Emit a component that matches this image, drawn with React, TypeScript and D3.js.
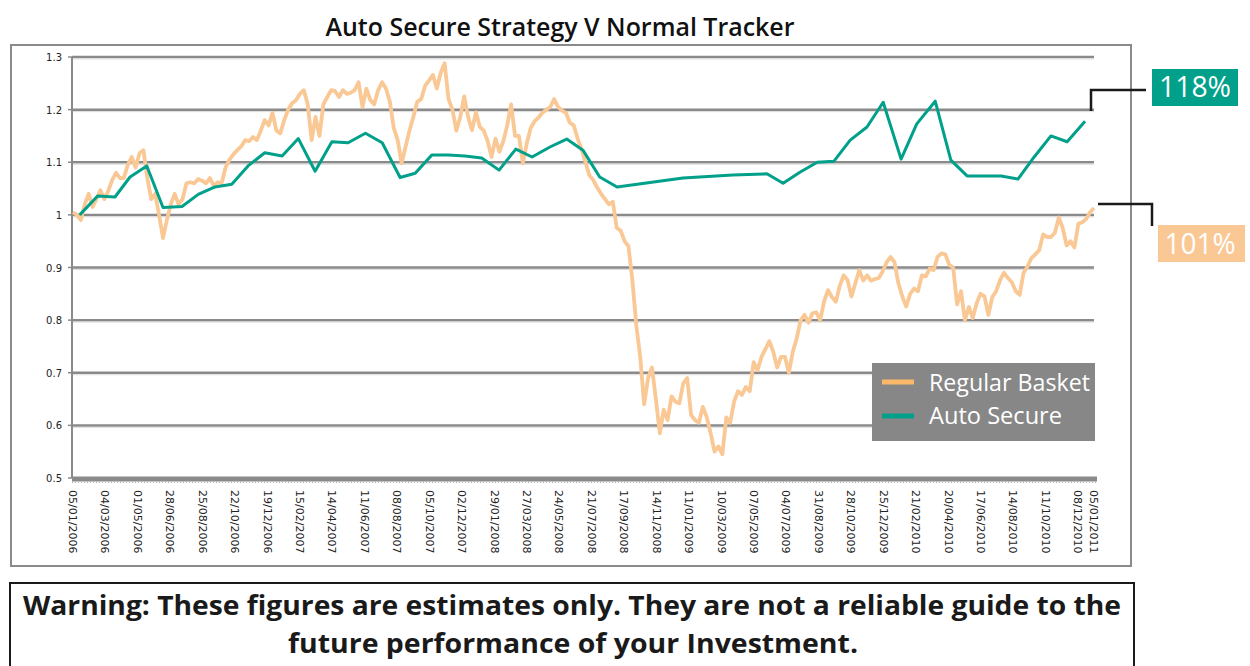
import React from "react";
import * as d3 from "d3";

// tick labels on the date axis
const tickLabels = [
  "05/01/2006", "04/03/2006", "01/05/2006", "28/06/2006", "25/08/2006", "22/10/2006",
  "19/12/2006", "15/02/2007", "14/04/2007", "11/06/2007", "08/08/2007", "05/10/2007",
  "02/12/2007", "29/01/2008", "27/03/2008", "24/05/2008", "21/07/2008", "17/09/2008",
  "14/11/2008", "11/01/2009", "10/03/2009", "07/05/2009", "04/07/2009", "31/08/2009",
  "28/10/2009", "25/12/2009", "21/02/2010", "20/04/2010", "17/06/2010", "14/08/2010",
  "11/10/2010", "08/12/2010", "05/01/2011",
];
const yTicks = [0.5, 0.6, 0.7, 0.8, 0.9, 1, 1.1, 1.2, 1.3];

// Auto Secure (monthly points)
const autoDates = [
  "2006-01-17", "2006-02-18", "2006-03-21", "2006-04-17", "2006-05-17", "2006-06-15",
  "2006-07-19", "2006-08-17", "2006-09-16", "2006-10-16", "2006-11-14", "2006-12-14",
  "2007-01-14", "2007-02-12", "2007-03-14", "2007-04-13", "2007-05-12", "2007-06-12",
  "2007-07-12", "2007-08-13", "2007-09-09", "2007-10-09", "2007-11-07", "2007-12-07",
  "2008-01-06", "2008-02-06", "2008-03-07", "2008-04-05", "2008-05-07", "2008-06-06",
  "2008-07-05", "2008-08-04", "2008-09-04", "2008-12-31", "2009-03-30", "2009-05-30",
  "2009-06-28", "2009-07-28", "2009-08-28", "2009-09-27", "2009-10-26", "2009-11-25",
  "2009-12-24", "2010-01-25", "2010-02-22", "2010-03-27", "2010-04-24", "2010-05-23",
  "2010-07-23", "2010-08-22", "2010-09-20", "2010-10-20", "2010-11-18", "2010-12-20",
];
const autoValues = [
  1.0, 1.036, 1.034, 1.072, 1.093, 1.014,
  1.016, 1.039, 1.053, 1.058, 1.093, 1.118,
  1.112, 1.145, 1.083, 1.139, 1.137, 1.155,
  1.137, 1.071, 1.079, 1.114, 1.114, 1.112,
  1.108, 1.085, 1.125, 1.11, 1.129, 1.144,
  1.123, 1.072, 1.053, 1.07, 1.076, 1.078,
  1.06, 1.081, 1.1, 1.102, 1.142, 1.167,
  1.214, 1.106, 1.173, 1.216, 1.104, 1.074,
  1.074, 1.068, 1.11, 1.15, 1.139, 1.178,
];

// Regular Basket (weekly, 05/01/2006 .. 05/01/2011)
const basketStart = "2006-01-05";
const basketEnd = "2011-01-05";
const basketValues = [
  1.005, 1.0, 0.99, 1.02, 1.04, 1.015, 1.03, 1.047, 1.03, 1.045,
  1.066, 1.08, 1.07, 1.07, 1.095, 1.11, 1.09, 1.117, 1.123, 1.07,
  1.03, 1.04, 1.0, 0.956, 0.99, 1.02, 1.04, 1.02, 1.03, 1.06,
  1.062, 1.06, 1.068, 1.065, 1.06, 1.07, 1.055, 1.062, 1.06, 1.09,
  1.105, 1.115, 1.123, 1.13, 1.142, 1.14, 1.148, 1.142, 1.16, 1.18,
  1.17, 1.194, 1.16, 1.155, 1.18, 1.2, 1.212, 1.218, 1.23, 1.237,
  1.21, 1.142, 1.186, 1.15, 1.21, 1.224, 1.237, 1.235, 1.224, 1.237,
  1.23, 1.232, 1.237, 1.252, 1.205, 1.24, 1.218, 1.21, 1.237, 1.252,
  1.24, 1.215, 1.165, 1.142, 1.098, 1.129, 1.16, 1.186, 1.215, 1.22,
  1.245, 1.255, 1.266, 1.24, 1.27, 1.288, 1.22, 1.2, 1.16, 1.186,
  1.225, 1.186, 1.161, 1.195, 1.167, 1.16, 1.14, 1.11, 1.145, 1.12,
  1.14, 1.17, 1.21, 1.15, 1.15, 1.098, 1.136, 1.165, 1.178, 1.185,
  1.194, 1.2, 1.205, 1.22, 1.205, 1.198, 1.194, 1.175, 1.17, 1.145,
  1.125, 1.1, 1.075, 1.066, 1.052, 1.04, 1.03, 1.02, 1.025, 0.975,
  0.97, 0.95, 0.94, 0.875, 0.79, 0.73, 0.64, 0.69, 0.71, 0.65,
  0.585, 0.63, 0.61, 0.655, 0.645, 0.642, 0.68, 0.69, 0.62, 0.61,
  0.605, 0.635, 0.616, 0.585, 0.55, 0.56, 0.545, 0.615, 0.605, 0.645,
  0.665, 0.658, 0.673, 0.665, 0.72, 0.705, 0.73, 0.745, 0.76, 0.74,
  0.71, 0.73, 0.73, 0.7, 0.74, 0.765, 0.8, 0.81, 0.795, 0.813,
  0.815, 0.8, 0.835, 0.857, 0.844, 0.835, 0.865, 0.885, 0.876, 0.845,
  0.87, 0.895, 0.875, 0.885, 0.875, 0.878, 0.88, 0.893, 0.91, 0.92,
  0.91, 0.87, 0.845, 0.826, 0.85, 0.86, 0.855, 0.885, 0.883, 0.898,
  0.895, 0.92, 0.927, 0.925, 0.905, 0.9, 0.83, 0.855, 0.8, 0.825,
  0.804, 0.832, 0.85, 0.845, 0.81, 0.844, 0.855, 0.876, 0.89, 0.88,
  0.872, 0.855, 0.848, 0.89, 0.902, 0.918, 0.925, 0.933, 0.963, 0.958,
  0.958, 0.966, 0.995, 0.975, 0.942, 0.95, 0.938, 0.983, 0.986, 0.992,
  1.005, 1.013,
];

const TEAL = "#00a08a";
const PEACH = "#f9c894";
const GRID = "#8a8a8a";

const parseTick = d3.timeParse("%d/%m/%Y");
const parseIso = d3.timeParse("%Y-%m-%d");

export default function App() {
  const left = 73;
  const right = 1094;
  const top = 57;
  const bottom = 478;

  const x = d3
    .scaleTime()
    .domain([parseIso(basketStart)!, parseIso(basketEnd)!])
    .range([left, right]);
  const xi = d3
    .scaleLinear()
    .domain([0, basketValues.length - 1])
    .range([left, right]);
  const y = d3.scaleLinear().domain([0.5, 1.3]).range([bottom, top]);

  const basketLine = d3
    .line<number>()
    .x((_, i) => xi(i))
    .y((d) => y(d))(basketValues)!;

  const autoLine = d3
    .line<number>()
    .x((_, i) => x(parseIso(autoDates[i])!))
    .y((d) => y(d))(autoValues)!;

  return (
    <svg
      width={1250}
      height={666}
      style={{ position: "absolute", left: 0, top: 0, background: "#fff" }}
    >
      {/* title */}
      <text
        x={560}
        y={36}
        textAnchor="middle"
        fontFamily="'Open Sans', sans-serif"
        fontWeight={600}
        fontSize={26}
        fill="#111"
        textLength={469}
        lengthAdjust="spacingAndGlyphs"
      >
        Auto Secure Strategy V Normal Tracker
      </text>

      {/* chart frame */}
      <rect x={11} y={45} width={1120} height={521} fill="none" stroke="#8a8a8a" strokeWidth={2} />

      {/* gridlines */}
      {yTicks.slice(1).map((t) => (
        <g key={t}>
          <line x1={left - 1} x2={right} y1={y(t)} y2={y(t)} stroke={GRID} strokeWidth={2.5} />
          <line x1={left - 1} x2={right} y1={y(t) + 2} y2={y(t) + 2} stroke="#dcdcdc" strokeWidth={1} />
        </g>
      ))}

      {/* y axis */}
      <line x1={left - 1} x2={left - 1} y1={top} y2={bottom} stroke={GRID} strokeWidth={2} />
      {yTicks.map((t) => (
        <g key={t}>
          <line x1={left - 5} x2={left - 1} y1={y(t)} y2={y(t)} stroke={GRID} strokeWidth={1.5} />
          <text
            x={left - 11}
            y={y(t) + 4}
            textAnchor="end"
            fontFamily="'DejaVu Sans', sans-serif"
            fontSize={10}
            fill="#222"
          >
            {t}
          </text>
        </g>
      ))}

      {/* x axis band */}
      <line x1={left - 1} x2={right + 3} y1={bottom + 1} y2={bottom + 1} stroke={GRID} strokeWidth={5} />
      <line
        x1={left - 1}
        x2={right + 3}
        y1={bottom + 4.5}
        y2={bottom + 4.5}
        stroke="#bdbdbd"
        strokeWidth={1}
        strokeDasharray="1 2"
      />
      {tickLabels.map((lbl) => {
        const px = x(parseTick(lbl)!);
        return (
          <text
            key={lbl}
            transform={`translate(${px - 4},${bottom + 12}) rotate(90)`}
            fontFamily="'DejaVu Sans', sans-serif"
            fontSize={11}
            fill="#222"
          >
            {lbl}
          </text>
        );
      })}

      {/* series */}
      <path d={basketLine} fill="none" stroke={PEACH} strokeWidth={3.8} strokeLinejoin="round" />
      <path d={autoLine} fill="none" stroke={TEAL} strokeWidth={3} strokeLinejoin="round" />

      {/* legend */}
      <rect x={872} y={363} width={223} height={78} fill="#878787" />
      <line x1={882} x2={914} y1={382} y2={382} stroke="#fbb868" strokeWidth={5} />
      <line x1={882} x2={914} y1={416} y2={416} stroke={TEAL} strokeWidth={5} />
      <text
        x={929}
        y={391}
        fontFamily="'Open Sans', sans-serif"
        fontSize={23}
        fill="#fff"
        textLength={161}
        lengthAdjust="spacingAndGlyphs"
      >
        Regular Basket
      </text>
      <text
        x={929}
        y={424}
        fontFamily="'Open Sans', sans-serif"
        fontSize={23}
        fill="#fff"
        textLength={133}
        lengthAdjust="spacingAndGlyphs"
      >
        Auto Secure
      </text>

      {/* end annotations */}
      <path d="M1091,111 V90 H1146" fill="none" stroke="#1a1a1a" strokeWidth={2.5} />
      <rect x={1152} y={69} width={86} height={37} fill={TEAL} />
      <text
        x={1195}
        y={97}
        textAnchor="middle"
        fontFamily="'Open Sans', sans-serif"
        fontSize={29}
        fill="#fff"
        textLength={72}
        lengthAdjust="spacingAndGlyphs"
      >
        118%
      </text>
      <path d="M1098,204 H1152 V226" fill="none" stroke="#1a1a1a" strokeWidth={2.5} />
      <rect x={1158} y={225} width={87} height={37} fill={PEACH} />
      <text
        x={1200}
        y={254}
        textAnchor="middle"
        fontFamily="'Open Sans', sans-serif"
        fontSize={29}
        fill="#fff"
        textLength={71}
        lengthAdjust="spacingAndGlyphs"
      >
        101%
      </text>

      {/* warning box */}
      <rect x={10} y={583} width={1124} height={100} fill="#fff" stroke="#1a1a1a" strokeWidth={2} />
      <text
        x={572}
        y={615}
        textAnchor="middle"
        fontFamily="'Open Sans', sans-serif"
        fontWeight="bold"
        fontSize={26}
        fill="#1a1a1a"
        textLength={1098}
        lengthAdjust="spacingAndGlyphs"
      >
        Warning: These figures are estimates only. They are not a reliable guide to the
      </text>
      <text
        x={573}
        y={653}
        textAnchor="middle"
        fontFamily="'Open Sans', sans-serif"
        fontWeight="bold"
        fontSize={26}
        fill="#1a1a1a"
        textLength={570}
        lengthAdjust="spacingAndGlyphs"
      >
        future performance of your Investment.
      </text>
    </svg>
  );
}
